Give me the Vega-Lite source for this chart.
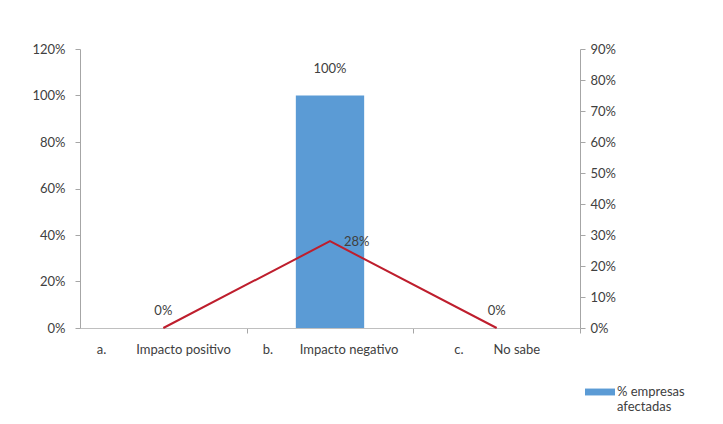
{
  "$schema": "https://vega.github.io/schema/vega-lite/v6.json",
  "width": 500,
  "height": 279,
  "autosize": {"type": "none"},
  "padding": {"left": 80, "top": 49, "right": 143, "bottom": 96},
  "background": "white",
  "config": {
    "view": {"stroke": null},
    "font": "Lato",
    "axis": {"labelFont": "Lato", "labelFontSize": 13, "labelColor": "#404040", "domainColor": "#A6A6A6", "tickColor": "#A6A6A6", "grid": false, "title": null, "tickSize": 5}
  },
  "data": {
    "values": [
      {"categoria": "a.\u00a0\u00a0\u00a0\u00a0\u00a0\u00a0\u00a0\u00a0\u00a0Impacto positivo", "empresas": 0, "linea": 0},
      {"categoria": "b.\u00a0\u00a0\u00a0\u00a0\u00a0\u00a0\u00a0\u00a0Impacto negativo", "empresas": 1.0, "linea": 0.28},
      {"categoria": "c.\u00a0\u00a0\u00a0\u00a0\u00a0\u00a0\u00a0\u00a0\u00a0No sabe", "empresas": 0, "linea": 0}
    ]
  },
  "encoding": {
    "x": {
      "field": "categoria", "type": "nominal", "sort": null,
      "scale": {"paddingInner": 0.59, "paddingOuter": 0.295},
      "axis": {"labelAngle": 0, "tickOffset": 83.3, "labelOffset": -83.3, "labelPadding": 10, "labelLimit": 300, "domainColor": "#BFBFBF"}
    }
  },
  "layer": [
    {
      "encoding": {
        "y": {"field": "empresas", "type": "quantitative",
          "scale": {"domain": [0, 1.2], "nice": false},
          "axis": {"orient": "left", "values": [0, 0.2, 0.4, 0.6, 0.8, 1.0, 1.2], "format": ".0%", "labelPadding": 10}}
      },
      "layer": [
        {
          "mark": {"type": "bar"},
          "encoding": {
            "color": {"datum": "% empresas afectadas", "type": "nominal",
              "scale": {"range": ["#5B9BD5"]},
              "legend": {
                "title": null, "orient": "none", "legendX": 505, "legendY": 328,
                "symbolType": "M-1,-0.23H1V0.23H-1Z", "symbolSize": 900,
                "symbolStrokeWidth": 0, "symbolOpacity": 1,
                "labelFont": "Lato", "labelFontSize": 13, "labelColor": "#404040",
                "labelExpr": "['% empresas', 'afectadas']", "labelOffset": 2, "labelLimit": 200
              }
            }
          }
        },
        {
          "transform": [{"filter": "datum.empresas > 0"}],
          "mark": {"type": "text", "baseline": "bottom", "dy": -20, "fontSize": 13, "color": "#404040", "font": "Lato"},
          "encoding": {"text": {"field": "empresas", "type": "quantitative", "format": ".0%"}}
        }
      ]
    },
    {
      "encoding": {
        "y": {"field": "linea", "type": "quantitative",
          "scale": {"domain": [0, 0.9], "nice": false},
          "axis": {"orient": "right", "values": [0, 0.1, 0.2, 0.3, 0.4, 0.5, 0.6, 0.7, 0.8, 0.9], "format": ".0%", "labelPadding": 5}}
      },
      "layer": [
        {
          "mark": {"type": "line", "color": "#BE1E2D", "strokeWidth": 2},
          "encoding": {}
        },
        {
          "transform": [{"filter": "datum.linea == 0"}],
          "mark": {"type": "text", "baseline": "bottom", "dy": -10, "fontSize": 13, "color": "#404040", "font": "Lato"},
          "encoding": {"text": {"field": "linea", "type": "quantitative", "format": ".0%"}}
        },
        {
          "transform": [{"filter": "datum.linea > 0"}],
          "mark": {"type": "text", "baseline": "middle", "align": "left", "dx": 14, "dy": 1, "fontSize": 13, "color": "#404040", "font": "Lato"},
          "encoding": {"text": {"field": "linea", "type": "quantitative", "format": ".0%"}}
        }
      ]
    }
  ],
  "resolve": {"scale": {"y": "independent"}}
}
